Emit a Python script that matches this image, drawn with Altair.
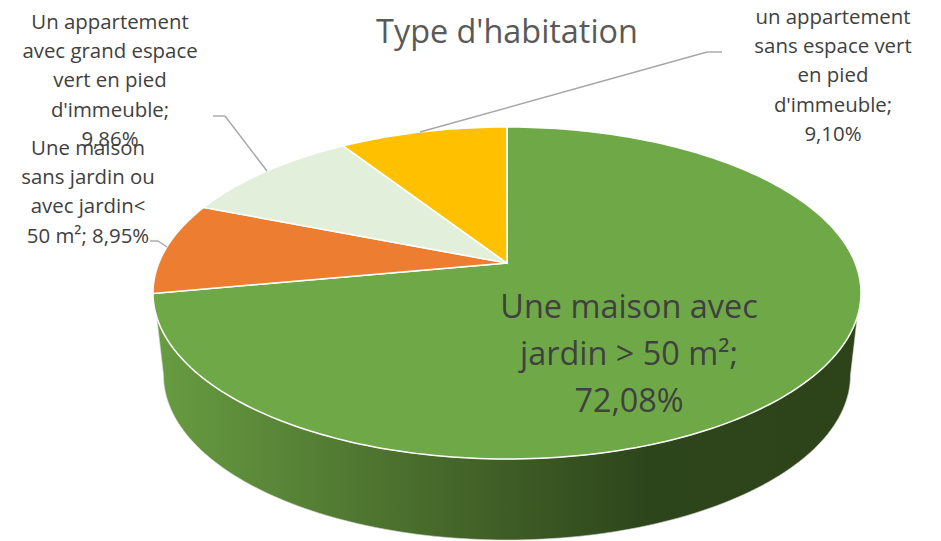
import math
import altair as alt

# values
categories = ["Une maison avec jardin > 50 m²",
              "Une maison sans jardin ou avec jardin< 50 m²",
              "Un appartement avec grand espace vert en pied d'immeuble",
              "un appartement sans espace vert en pied d'immeuble"]
shares = [72.08, 8.95, 9.86, 9.10]
colours = ["#6FA947", "#ED7D31", "#E2EFDA", "#FFC000"]
title_text = "Type d'habitation"

# pie geometry in the plot's pixel frame (page pixel minus the 8px margin)
CX, CY, RX, RY = 499, 285, 354, 166
TILT = 0.18
BOTTOM_CY, BOTTOM_RX, BOTTOM_RY = 367, 343.5, 165


def to_plot(u, v):
    d = 1 + TILT * v
    return [CX + RX * u * math.sqrt(1 - TILT ** 2) / d, CY - RY * (v + TILT) / d]


def rim(share):
    a = 2 * math.pi * share / 100
    return to_plot(math.sin(a), math.cos(a))


features = []
start = 0.0
for name, share in zip(categories, shares):
    n = max(4, int(share * 3))
    ring = [to_plot(0, 0)] + [rim(start + share * i / n) for i in range(n + 1)]
    ring.append(ring[0])
    features.append({"type": "Feature", "properties": {"name": name},
                     "geometry": {"type": "Polygon", "coordinates": [ring]}})
    start += share

# side wall: lower half of the top rim, then the lower half of the bottom rim
lim = math.asin(24 / RY)
top_edge = []
for i in range(121):
    a = math.pi - lim - (math.pi - 2 * lim) * i / 120
    top_edge.append([CX + RX * math.cos(a), CY + RY * math.sin(a)])
bottom_edge = [[CX + BOTTOM_RX * math.cos(math.pi * i / 120),
                BOTTOM_CY + BOTTOM_RY * math.sin(math.pi * i / 120)] for i in range(121)]
wall_ring = top_edge + bottom_edge + [top_edge[0]]
wall_feature = {"type": "Feature", "properties": {"name": "wall"},
                "geometry": {"type": "Polygon", "coordinates": [wall_ring]}}

wall = alt.Chart(alt.Data(values=[wall_feature])).mark_geoshape(
    fill=alt.Gradient(gradient="linear", x1=0, x2=1, y1=0, y2=0, stops=[
        alt.GradientStop(offset=0, color="#679C41"),
        alt.GradientStop(offset=0.40, color="#47692B"),
        alt.GradientStop(offset=0.70, color="#2D451B"),
        alt.GradientStop(offset=1, color="#2D441B")]),
    stroke="#D9D9D9", strokeWidth=0.6).project(type="identity", scale=1, translate=[0, 0])

slices = alt.Chart(alt.Data(values=features)).mark_geoshape(
    stroke="white", strokeWidth=1.5).encode(
    color=alt.Color("properties.name:N",
                    scale=alt.Scale(domain=categories, range=colours), legend=None)
).project(type="identity", scale=1, translate=[0, 0])


def seg(x1, y1, x2, y2):
    return alt.Chart(alt.Data(values=[{"a": 1}])).mark_rule(
        color="#A6A6A6", strokeWidth=1.4).encode(
        x=alt.value(x1 - 8), x2=alt.value(x2 - 8), y=alt.value(y1 - 8), y2=alt.value(y2 - 8))


def txt(label, x, y, size, colour="#404040", lh=29.2):
    return alt.Chart(alt.Data(values=[{"t": label}])).mark_text(
        font="Open Sans", fontSize=size, color=colour, align="center", baseline="middle",
        lineBreak="\n", lineHeight=lh, x=x - 8, y=y - 8).encode(text="t:N")


layers = [wall, slices,
          seg(213, 116, 225, 116), seg(225, 116, 267, 171),
          seg(150, 241, 158, 241), seg(158, 241, 167, 247),
          seg(420, 132, 707, 52), seg(707, 52, 722, 52),
          txt("Un appartement\navec grand espace\nvert en pied\nd'immeuble;\n9,86%", 110, 23, 20.4),
          txt("Une maison\nsans jardin ou\navec jardin<\n50 m²; 8,95%", 88, 149, 20.4),
          txt("un appartement\nsans espace vert\nen pied\nd'immeuble;\n9,10%", 833, 18, 20.4),
          txt("Une maison avec\njardin > 50 m²;\n72,08%", 629, 308, 32.4, lh=47),
          txt(title_text, 507, 33, 32.4, "#595959")]

chart = alt.layer(*layers).properties(
    width=925, height=533, padding=0,
    autosize=alt.AutoSizeParams(type="none")
).configure_view(stroke=None)

chart.save("out.html", embed_options={"renderer": "svg", "actions": False})
